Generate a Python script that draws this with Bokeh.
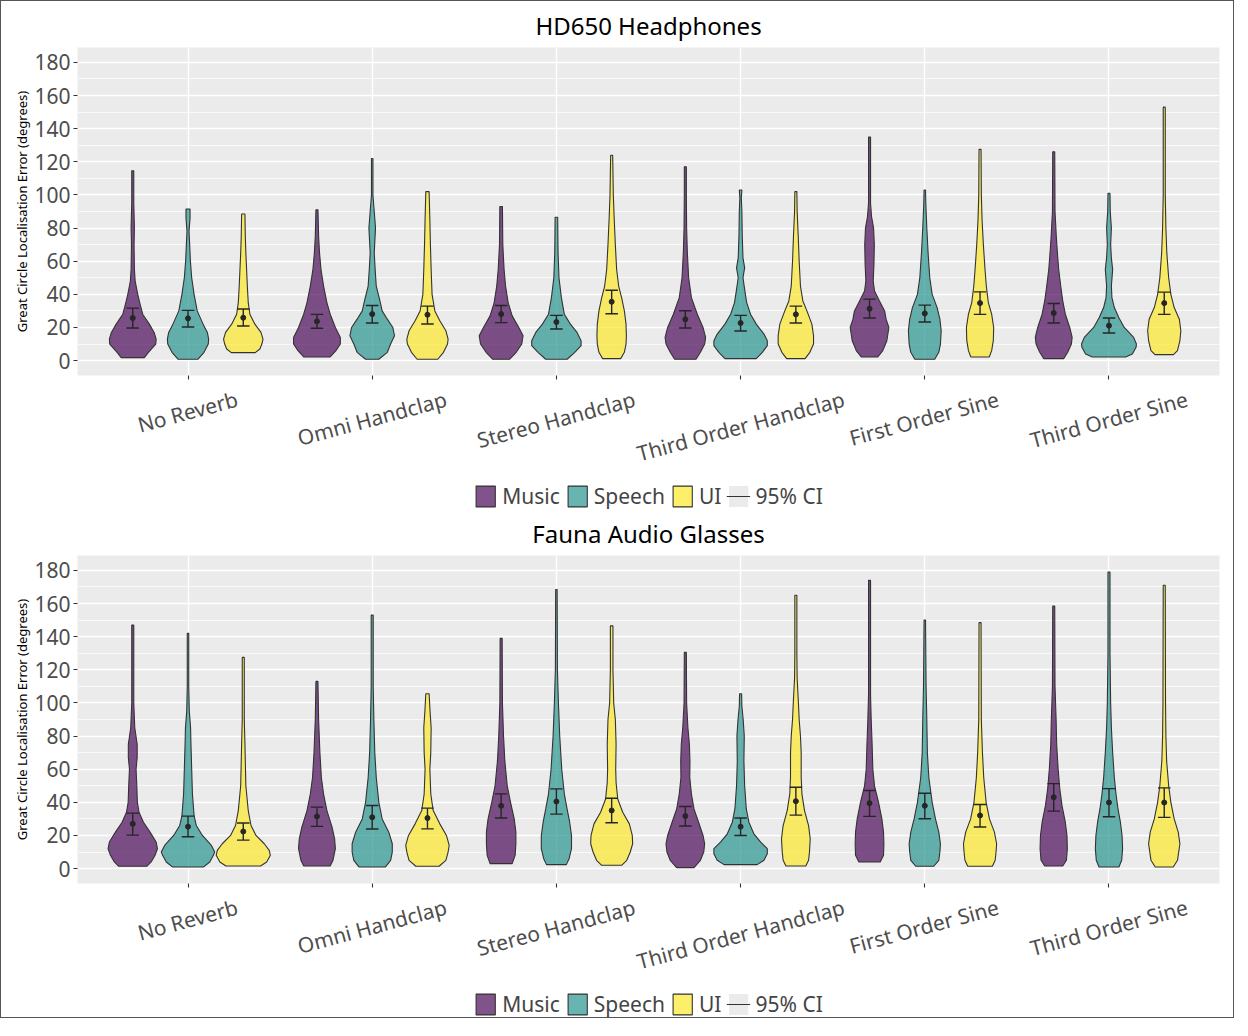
import math
from bokeh.plotting import figure
from bokeh.models import (ColumnDataSource, FixedTicker, SingleIntervalTicker,
                          Legend, LegendItem, Range1d)
from bokeh.layouts import column
from bokeh.embed import file_html
from bokeh.resources import INLINE

# ---------------- data ----------------
CONDITIONS = ["No Reverb", "Omni Handclap", "Stereo Handclap",
              "Third Order Handclap", "First Order Sine", "Third Order Sine"]
CATEGORIES = ["Music", "Speech", "UI"]
COLORS = ["#440154", "#21908C", "#FDE725"]

# violin profiles: [error (deg), half-width (hundredths of a category slot)]
HD_MUSIC = [
    [[1.8, 6.3], [5, 8.5], [10, 12.5], [13, 12.7], [17, 11.6], [22, 9], [28, 5.4], [34, 4], [40, 2.7], [48, 1.3], [55, 0.9], [70, 0.7], [80, 0.9], [95, 0.55], [114.6, 0.55]],
    [[2.2, 7.2], [6, 10.3], [10, 12.7], [14, 12.7], [20, 10], [28, 7.2], [35, 5.4], [45, 3.6], [55, 2.2], [65, 1.4], [75, 0.9], [91, 0.55]],
    [[0.8, 4.5], [5, 8.2], [10, 11.2], [15, 11.9], [20, 9.6], [27, 6], [35, 3.8], [45, 2.4], [55, 1.6], [70, 0.9], [93, 0.7]],
    [[0.8, 5.8], [5, 8.2], [10, 10.5], [14, 11], [20, 9.6], [28, 6.5], [38, 3.3], [50, 1.8], [65, 1.1], [80, 0.7], [100, 0.55], [117, 0.55]],
    [[2.2, 4.5], [6, 7.2], [12, 9.4], [20, 10.5], [25, 9], [30, 8.2], [36, 5.4], [42, 2.7], [48, 2.0], [58, 2.4], [70, 2.6], [80, 2.2], [87, 1.1], [95, 0.55], [135, 0.55]],
    [[1.2, 5.4], [5, 7.6], [10, 9.6], [14, 10], [20, 8.7], [28, 6.3], [36, 4.9], [45, 3.8], [55, 2.7], [65, 2], [75, 1.4], [90, 0.7], [126, 0.55]],
]
HD_SPEECH = [
    [[0.8, 5.3], [5, 8.7], [10, 11], [13, 11.2], [17, 10.5], [22, 8.2], [30, 5], [40, 3.3], [50, 2], [60, 1.3], [70, 0.9], [78, 0.55], [86, 1.1], [91.5, 1.1]],
    [[0.8, 3.6], [5, 8.2], [10, 10], [15, 12.1], [20, 11.2], [25, 8.2], [30, 5.4], [37, 4], [45, 2.2], [55, 1.6], [65, 1.1], [80, 1.8], [90, 1.1], [100, 0.4], [122, 0.4]],
    [[0.8, 5.8], [5, 10], [9, 13.4], [12, 13.4], [17, 11.2], [22, 7.6], [28, 4.3], [38, 2.7], [50, 1.4], [65, 0.9], [86.5, 0.7]],
    [[1.2, 8.5], [5, 11.8], [9, 14.5], [12, 14.5], [16, 12.7], [22, 8.5], [28, 5.4], [35, 3.3], [43, 2.2], [50, 1.3], [56, 2.2], [62, 1.3], [75, 0.9], [90, 0.7], [98, 0.4], [103, 0.7]],
    [[0.8, 5.4], [5, 7.6], [10, 8.5], [18, 8.9], [25, 8.2], [32, 6.7], [40, 4], [50, 2.7], [65, 1.8], [80, 1.1], [95, 0.55], [103, 0.4]],
    [[2.2, 9], [4, 12.7], [8, 14.7], [10, 14.9], [14, 13.4], [20, 8.3], [26, 5.3], [32, 2.9], [38, 1.6], [45, 1.3], [55, 2], [62, 1.3], [70, 0.9], [80, 1.3], [90, 0.7], [101, 0.55]],
]
HD_UI = [
    [[4.8, 6.5], [7, 9], [10, 10.1], [13, 10.7], [17, 9.6], [22, 6.3], [28, 3.6], [35, 2.7], [45, 2.2], [55, 1.8], [65, 1.4], [75, 1.1], [88.5, 0.9]],
    [[0.8, 5.6], [5, 8.7], [10, 10.9], [13, 11.2], [18, 10], [24, 6.7], [30, 4], [40, 2.5], [55, 2], [70, 1.6], [85, 1.3], [102, 0.9]],
    [[1.2, 4.9], [5, 6.9], [10, 7.8], [15, 8], [22, 7.8], [30, 6.9], [38, 5.4], [45, 3.8], [55, 2.7], [70, 2], [85, 1.4], [100, 0.9], [124, 0.55]],
    [[1.2, 5], [5, 7.6], [10, 9.6], [15, 9.6], [22, 8.7], [30, 6], [36, 3.8], [45, 2.5], [60, 1.8], [75, 1.3], [90, 0.7], [102, 0.55]],
    [[2.2, 5], [6, 6.3], [12, 7.2], [20, 7.4], [28, 6.3], [35, 4.5], [45, 3.4], [55, 2.7], [70, 1.8], [85, 1.1], [100, 0.7], [127.5, 0.55]],
    [[3.6, 5], [6, 7.2], [12, 8.5], [18, 9], [25, 8.2], [32, 5.4], [40, 3.6], [50, 2.4], [65, 1.4], [80, 0.9], [100, 0.55], [153, 0.55]],
]
FA_MUSIC = [
    [[1.4, 7.6], [4, 10], [8, 12.1], [12, 13.4], [16, 12.7], [22, 9.4], [28, 5.8], [34, 3.4], [40, 2.5], [50, 2.2], [60, 1.8], [67, 2.4], [75, 2.4], [85, 1.1], [100, 0.55], [147, 0.55]],
    [[1.6, 7.2], [5, 8.7], [12, 10], [18, 9.6], [25, 8.2], [35, 5.4], [45, 3.6], [55, 2.4], [70, 1.6], [90, 0.9], [113, 0.55]],
    [[3, 6], [8, 7.6], [15, 8], [22, 8], [30, 7.1], [40, 5.1], [50, 3.3], [65, 2], [80, 1.3], [100, 0.7], [139, 0.55]],
    [[0.6, 4.7], [5, 8.2], [10, 10], [15, 10.5], [20, 9.6], [28, 7.2], [36, 4.7], [45, 3.3], [55, 2.4], [65, 2.5], [75, 2.2], [85, 1.4], [100, 0.7], [130.5, 0.55]],
    [[4, 5.8], [8, 7.6], [15, 7.8], [22, 7.6], [30, 6.7], [40, 4.9], [50, 2.7], [60, 1.8], [75, 1.4], [90, 0.9], [105, 0.55], [174, 0.55]],
    [[1.6, 4.9], [5, 6.9], [12, 7.4], [20, 7.2], [28, 6.3], [38, 4.5], [48, 3.3], [60, 2.4], [75, 1.6], [90, 1.3], [110, 0.7], [158.5, 0.55]],
]
FA_SPEECH = [
    [[1, 8.5], [4, 11.8], [8, 13.8], [10, 14.5], [14, 12.7], [20, 7.8], [26, 4.5], [32, 3.3], [45, 2.4], [60, 2], [75, 1.6], [85, 1.4], [95, 0.7], [110, 0.4], [142, 0.4]],
    [[1, 7.2], [5, 10], [10, 10.9], [15, 10.9], [22, 9], [30, 5.4], [40, 3.6], [55, 2.2], [70, 1.4], [90, 0.9], [110, 0.55], [153, 0.55]],
    [[2.4, 5.4], [6, 6.9], [12, 8.2], [20, 8.2], [28, 7.2], [36, 5.8], [45, 4.3], [60, 2.9], [80, 1.8], [100, 1.1], [120, 0.55], [168.5, 0.4]],
    [[2.4, 9], [5, 12.7], [9, 14.5], [12, 14.5], [16, 10.9], [21, 7.2], [28, 4.5], [36, 3.1], [50, 2.2], [65, 1.8], [80, 2], [90, 1.4], [98, 0.7], [105.5, 0.55]],
    [[1.4, 4.9], [5, 7.6], [10, 8.2], [15, 8.5], [22, 7.6], [30, 5.8], [40, 4], [55, 2.2], [70, 1.4], [90, 1.1], [110, 0.7], [150, 0.4]],
    [[1, 5.4], [5, 6.9], [12, 7.4], [20, 7.1], [28, 6.2], [36, 4.9], [45, 3.8], [55, 2.9], [70, 2], [85, 1.3], [100, 0.9], [130, 0.55], [179, 0.55]],
]
FA_UI = [
    [[1.6, 9.4], [4, 12.7], [8, 14.7], [11, 14.1], [15, 11.4], [20, 6.9], [26, 4.2], [35, 2.7], [50, 1.4], [65, 1.1], [75, 0.9], [90, 0.55], [127.5, 0.55]],
    [[1.4, 6.3], [5, 10], [10, 11.2], [14, 11.8], [20, 10.3], [27, 6.7], [35, 3.1], [45, 1.8], [60, 1.3], [70, 1.8], [85, 2], [95, 1.4], [105.5, 0.9]],
    [[2, 5.4], [5, 8.2], [10, 10.1], [15, 11.4], [20, 11.2], [27, 9.6], [34, 6], [42, 3.3], [52, 2.4], [60, 2.2], [75, 2.4], [90, 2], [100, 1.1], [120, 0.7], [146.5, 0.7]],
    [[1.6, 5.4], [5, 6.9], [10, 7.4], [18, 7.8], [26, 6.9], [35, 4.7], [45, 3.3], [55, 2.9], [70, 2.9], [80, 2.5], [90, 1.8], [100, 1.4], [115, 0.7], [130, 0.55], [165, 0.55]],
    [[1.4, 6.7], [5, 8.2], [10, 8.7], [15, 9], [22, 7.8], [30, 5.1], [40, 3.3], [55, 2], [70, 1.3], [90, 0.7], [148.5, 0.55]],
    [[1, 4.9], [5, 7.2], [15, 8.5], [22, 7.6], [30, 5.4], [40, 3.6], [50, 2.4], [65, 1.3], [80, 0.9], [100, 0.7], [171, 0.55]],
]

# means and 95% CI bounds, per condition
HD_MEAN_MUSIC = [25.7, 23.7, 28.1, 24.9, 31.3, 28.7]
HD_LO_MUSIC = [19.7, 19.5, 22.9, 19.7, 25.7, 22.7]
HD_HI_MUSIC = [31.7, 27.9, 33.3, 30.1, 37.1, 34.5]
HD_MEAN_SPEECH = [25.5, 28.1, 23.3, 22.7, 28.5, 21.1]
HD_LO_SPEECH = [20.3, 22.7, 19.1, 17.9, 23.3, 16.7]
HD_HI_SPEECH = [30.3, 33.3, 27.3, 27.3, 33.5, 25.7]
HD_MEAN_UI = [25.9, 27.7, 35.5, 27.9, 34.7, 34.7]
HD_LO_UI = [20.9, 22.1, 28.3, 22.7, 27.9, 27.9]
HD_HI_UI = [31.1, 32.9, 42.5, 32.9, 41.5, 41.3]

FA_MEAN_MUSIC = [27.0, 31.5, 37.9, 31.7, 39.5, 43.1]
FA_LO_MUSIC = [20.2, 25.5, 30.5, 25.7, 31.5, 34.7]
FA_HI_MUSIC = [33.5, 37.1, 45.1, 37.5, 47.1, 51.3]
FA_MEAN_SPEECH = [25.3, 31.0, 40.5, 25.3, 37.9, 39.9]
FA_LO_SPEECH = [19.2, 23.9, 32.9, 20.0, 30.1, 31.3]
FA_HI_SPEECH = [31.7, 38.1, 48.1, 30.5, 45.5, 48.3]
FA_MEAN_UI = [22.4, 30.5, 35.1, 40.7, 32.1, 39.9]
FA_LO_UI = [17.2, 24.0, 27.7, 32.3, 25.1, 30.9]
FA_HI_UI = [27.5, 36.5, 42.5, 49.1, 38.7, 48.7]

# ---------------- styling ----------------
FONT = "Noto Sans"
DODGE = [-0.3, 0.0, 0.3]
LINE = "#333333"
FILL_ALPHA = 0.68
ANGLE = math.radians(15)
# approx. rendered length (px) of each rotated label, used to centre it on its tick
LABEL_PX = [102, 153, 162, 214, 152, 162]
PX_PER_UNIT = 1142 / 6.2


def make_panel(title, profiles, means, los, his):
    p = figure(width=1232, height=482, x_range=Range1d(0.4, 6.6), y_range=Range1d(-9, 189),
               output_backend="svg", toolbar_location=None, title=title,
               min_border_left=76, min_border_right=14, min_border_top=46, min_border_bottom=107)
    p.background_fill_color = "#EBEBEB"
    p.border_fill_color = "white"
    p.outline_line_color = None
    p.title.text_font = FONT
    p.title.text_font_size = "24px"
    p.title.text_font_style = "normal"
    p.title.text_color = "black"
    p.title.align = "center"
    p.title.standoff = 11

    tick_pos = list(range(1, len(CONDITIONS) + 1))
    p.xgrid.ticker = FixedTicker(ticks=tick_pos)
    p.xgrid.grid_line_color = "white"
    p.xgrid.grid_line_width = 1.4
    p.ygrid.grid_line_color = "white"
    p.ygrid.grid_line_width = 1.4
    p.ygrid.minor_grid_line_color = "white"
    p.ygrid.minor_grid_line_width = 0.7

    # x axis: tick marks (minor ticks) at categories, labels shifted so they centre on them
    shifted = [t + LABEL_PX[i] / 2 * math.cos(ANGLE) / PX_PER_UNIT for i, t in enumerate(tick_pos)]
    xa = p.xaxis[0]
    xa.ticker = FixedTicker(ticks=shifted, minor_ticks=tick_pos)
    xa.major_label_overrides = {s: name for s, name in zip(shifted, CONDITIONS)}
    xa.major_label_orientation = ANGLE
    xa.major_label_text_font = FONT
    xa.major_label_text_font_size = "21px"
    xa.major_label_text_color = "#4D4D4D"
    xa.major_label_standoff = 19
    xa.major_tick_line_color = None
    xa.major_tick_out = 0
    xa.major_tick_in = 0
    xa.minor_tick_line_color = LINE
    xa.minor_tick_line_width = 1.1
    xa.minor_tick_out = 4
    xa.minor_tick_in = 0
    xa.axis_line_color = None

    ya = p.yaxis[0]
    ya.ticker = SingleIntervalTicker(interval=20, num_minor_ticks=2)
    ya.axis_line_color = None
    ya.major_tick_line_color = LINE
    ya.major_tick_line_width = 1.1
    ya.major_tick_out = 4
    ya.major_tick_in = 0
    ya.minor_tick_line_color = None
    ya.major_label_text_font = FONT
    ya.major_label_text_font_size = "21px"
    ya.major_label_text_color = "#4D4D4D"
    ya.major_label_standoff = 3
    ya.axis_label = "Great Circle Localisation Error (degrees)"
    ya.axis_label_text_font = FONT
    ya.axis_label_text_font_size = "13px"
    ya.axis_label_text_font_style = "normal"
    ya.axis_label_text_color = "black"
    ya.axis_label_standoff = 0

    for ci, cat in enumerate(CATEGORIES):
        xs, ys = [], []
        for k, prof in enumerate(profiles[ci]):
            cx = k + 1 + DODGE[ci]
            yy = [pt[0] for pt in prof]
            ww = [pt[1] * 0.01 for pt in prof]
            xs.append([cx + w for w in ww] + [cx - w for w in reversed(ww)])
            ys.append(yy + yy[::-1])
        p.patches(xs=xs, ys=ys, fill_color=COLORS[ci], fill_alpha=FILL_ALPHA,
                  line_color=LINE, line_width=1.1)

    # error bars (95% CI) and means
    ex, elo, ehi, em = [], [], [], []
    for ci in range(len(CATEGORIES)):
        for k in range(len(CONDITIONS)):
            ex.append(k + 1 + DODGE[ci])
            elo.append(los[ci][k])
            ehi.append(his[ci][k])
            em.append(means[ci][k])
    src = ColumnDataSource(dict(x=ex, lo=elo, hi=ehi, m=em,
                                xl=[v - 0.034 for v in ex], xr=[v + 0.034 for v in ex]))
    p.segment(x0="x", x1="x", y0="lo", y1="hi", source=src, line_color="#262626", line_width=1.4)
    p.segment(x0="xl", x1="xr", y0="lo", y1="lo", source=src, line_color="#262626", line_width=1.4)
    p.segment(x0="xl", x1="xr", y0="hi", y1="hi", source=src, line_color="#262626", line_width=1.4)
    p.scatter(x="x", y="m", source=src, size=5, color="#262626")
    return p


def make_legend_strip():
    # a strip holding the key; its swatch renderers sit outside the visible range
    lg = figure(width=1232, height=26, x_range=Range1d(0, 1), y_range=Range1d(0, 1),
                output_backend="svg", toolbar_location=None,
                x_axis_location=None, y_axis_location=None,
                min_border_left=76, min_border_right=14, min_border_top=0, min_border_bottom=0)
    lg.outline_line_color = None
    lg.grid.visible = False
    lg.background_fill_color = "white"
    off = dict(xs=[[5, 6, 6]], ys=[[5, 5, 6]])
    items = []
    for ci, cat in enumerate(CATEGORIES):
        r = lg.patches(xs=off["xs"], ys=off["ys"], fill_color=COLORS[ci], fill_alpha=FILL_ALPHA,
                       line_color=LINE, line_width=1.1)
        items.append(LegendItem(label=cat, renderers=[r]))
    bg = lg.quad(left=[5], right=[6], top=[6], bottom=[5], fill_color="#EBEBEB", line_color=None)
    ln = lg.line(x=[5, 6], y=[5, 5], line_color=LINE, line_width=1.1)
    items.append(LegendItem(label="95% CI", renderers=[bg, ln]))
    leg = Legend(items=items, orientation="horizontal", location="center",
                 label_text_font=FONT, label_text_font_size="21px",
                 glyph_width=24, glyph_height=26, label_standoff=5, spacing=5, padding=0,
                 margin=0, border_line_color=None, background_fill_alpha=0, label_height=26)
    lg.add_layout(leg, "center")
    return lg


top = make_panel("HD650 Headphones", [HD_MUSIC, HD_SPEECH, HD_UI],
                 [HD_MEAN_MUSIC, HD_MEAN_SPEECH, HD_MEAN_UI],
                 [HD_LO_MUSIC, HD_LO_SPEECH, HD_LO_UI],
                 [HD_HI_MUSIC, HD_HI_SPEECH, HD_HI_UI])
bottom = make_panel("Fauna Audio Glasses", [FA_MUSIC, FA_SPEECH, FA_UI],
                    [FA_MEAN_MUSIC, FA_MEAN_SPEECH, FA_MEAN_UI],
                    [FA_LO_MUSIC, FA_LO_SPEECH, FA_LO_UI],
                    [FA_HI_MUSIC, FA_HI_SPEECH, FA_HI_UI])

layout = column(top, make_legend_strip(), bottom, make_legend_strip(), spacing=0,
                styles={"border": "1px solid #555555"})
open("out.html", "w").write(file_html(layout, INLINE))
